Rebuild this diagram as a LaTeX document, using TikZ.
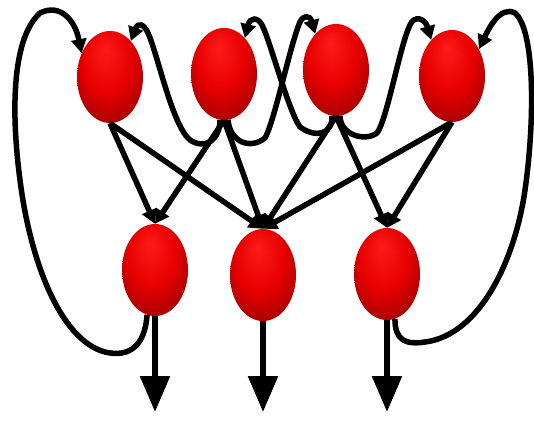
\documentclass[tikz,border=0pt]{standalone}
\usepackage{xcolor}
\definecolor{ballTop} {HTML}{FF1A1A}
\definecolor{ballMid} {HTML}{E80000}
\definecolor{ballLow} {HTML}{B00000}
\definecolor{ballDeep}{HTML}{600000}
\usetikzlibrary{arrows.meta, shapes.geometric}
\pgfdeclareradialshading{redball}{\pgfpoint{-4bp}{15bp}}{%
  color(0bp)=(ballTop); color(18bp)=(ballMid); color(30bp)=(ballLow);
  color(40bp)=(ballDeep); color(50bp)=(ballDeep)}

\begin{document}
\begin{tikzpicture}[
    x=1pt, y=-1pt,
    neuron/.style={ellipse, minimum width=66pt, minimum height=92pt,
                   inner sep=0pt, shading=redball},
    arr/.style={-{Triangle[length=14pt, width=15pt]}, line width=5.5pt},
    outarr/.style={-{Triangle[length=36pt, width=29pt]}, line width=5.5pt}
]
\useasboundingbox (0,0) rectangle (534,421);
% Top layer
\foreach \n/\x/\y in {t1/110/77, t2/224/74, t3/336/70, t4/452/76} {
    \node[neuron] (\n) at (\x,\y) {};
}
% Bottom layer
\foreach \n/\x/\y in {b1/155/270, b2/263/275, b3/387/274} {
    \node[neuron] (\n) at (\x,\y) {};
}
% Feedforward arrows
\foreach \a/\b in {t1/b1, t1/b2, t2/b1, t2/b2, t3/b2, t3/b3, t4/b2, t4/b3} {
    \draw[arr] (\a.south) -- (\b.north);
}
% Outputs
\foreach \b in {b1, b2, b3} {
    \coordinate (\b-end) at (\b.south |- 0,412);
    \draw[outarr] (\b.south) -- (\b-end);
}
% Lateral links in the top layer
\draw[arr] (t2.265) .. controls (220,140) and (205,150) .. (190,140)
    .. controls (172,125) and (158,55) .. (148,33)
    .. controls (144,24) and (138,22) .. (t1.60);
\draw[arr] (t3.265) .. controls (333,135) and (315,138) .. (300,127)
    .. controls (288,110) and (270,40) .. (262,25)
    .. controls (258,17) and (250,17) .. (t2.60);
\draw[arr] (t2.275) .. controls (230,142) and (250,150) .. (265,138)
    .. controls (275,120) and (290,45) .. (300,22)
    .. controls (303,15) and (310,15) .. (t3.120);
\draw[arr] (t3.275) .. controls (340,135) and (365,142) .. (377,133)
    .. controls (387,120) and (400,45) .. (410,25)
    .. controls (414,15) and (425,18) .. (t4.120);
% Feedback loops
\draw[arr] (b1.260) .. controls (145,345) and (130,358) .. (105,352)
    .. controls (60,340) and (30,260) .. (20,180)
    .. controls (12,120) and (10,40) .. (40,13)
    .. controls (60,3) and (75,20) .. (t1.140);
\draw[arr] (b3.280) .. controls (395,340) and (405,345) .. (425,342)
    .. controls (480,335) and (515,260) .. (525,190)
    .. controls (535,120) and (535,30) .. (515,13)
    .. controls (500,5) and (488,30) .. (t4.45);
\end{tikzpicture}
\end{document}
